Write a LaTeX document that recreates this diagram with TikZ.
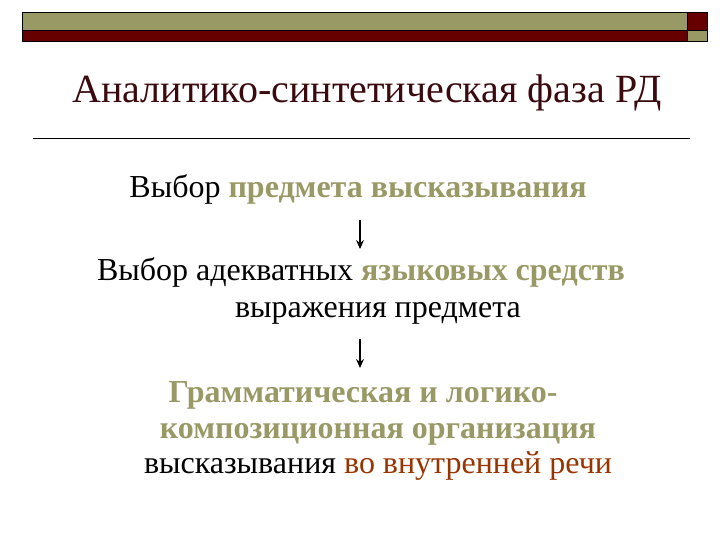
\documentclass[tikz,border=0pt]{standalone}
\usepackage{fontspec}
\setmainfont{Liberation Serif}
\usetikzlibrary{arrows.meta}
\definecolor{olivec}{HTML}{999966}
\definecolor{darkredc}{HTML}{660000}
\definecolor{titlec}{HTML}{3A0A0F}
\definecolor{brownc}{HTML}{993300}
\tikzset{
  bar/.style={draw=black, line width=0.8pt},
  txt/.style={anchor=base, inner sep=0pt, font=\fontsize{32}{36}\selectfont, text=black},
  ttl/.style={anchor=base, inner sep=0pt, font=\fontsize{40}{44}\selectfont, text=titlec},
  flow/.style={line width=1.1pt, -{Stealth[length=9pt,width=8pt,inset=3pt]}},
}
\newcommand{\hl}[1]{\textbf{\textcolor{olivec}{#1}}}
\begin{document}
\begin{tikzpicture}[x=1pt,y=-1pt]
\useasboundingbox (0,0) rectangle (720,540);
% top bar
\fill[olivec] (22,12) rectangle (687,30);
\fill[darkredc] (22,30) rectangle (687,41);
\fill[darkredc] (687,12) rectangle (707,30);
\fill[olivec] (687,30) rectangle (707,41);
\draw[bar] (22,12) rectangle (687,41);
\draw[bar] (22,30) -- (687,30);
\draw[bar] (687,12) rectangle (707,41);
\draw[bar] (687,30) -- (707,30);
% title
\node[ttl] (title) at (367,103) {Аналитико-синтетическая фаза РД};
\coordinate (rl) at (33,138);
\coordinate (rr) at (690,138);
\draw[line width=0.8pt] (rl) -- (rr);
% body
\node[txt] (l1) at (358,198) {Выбор \hl{предмета высказывания}};
\node[txt] (l2) at (361,280) {Выбор адекватных \hl{языковых средств}};
\node[txt] (l3) at (378,317) {выражения предмета};
\node[txt] (l4) at (363,402) {\hl{Грамматическая и логико-}};
\node[txt] (l5) at (378,438) {\hl{композиционная организация}};
\node[txt] (l6) at (378,473) {высказывания \textcolor{brownc}{во внутренней речи}};
% arrows
\coordinate (a1s) at (360,220);
\coordinate (a1e) at (360,249);
\coordinate (a2s) at (360,339);
\coordinate (a2e) at (360,368);
\draw[flow] (a1s) -- (a1e);
\draw[flow] (a2s) -- (a2e);
\end{tikzpicture}
\end{document}
